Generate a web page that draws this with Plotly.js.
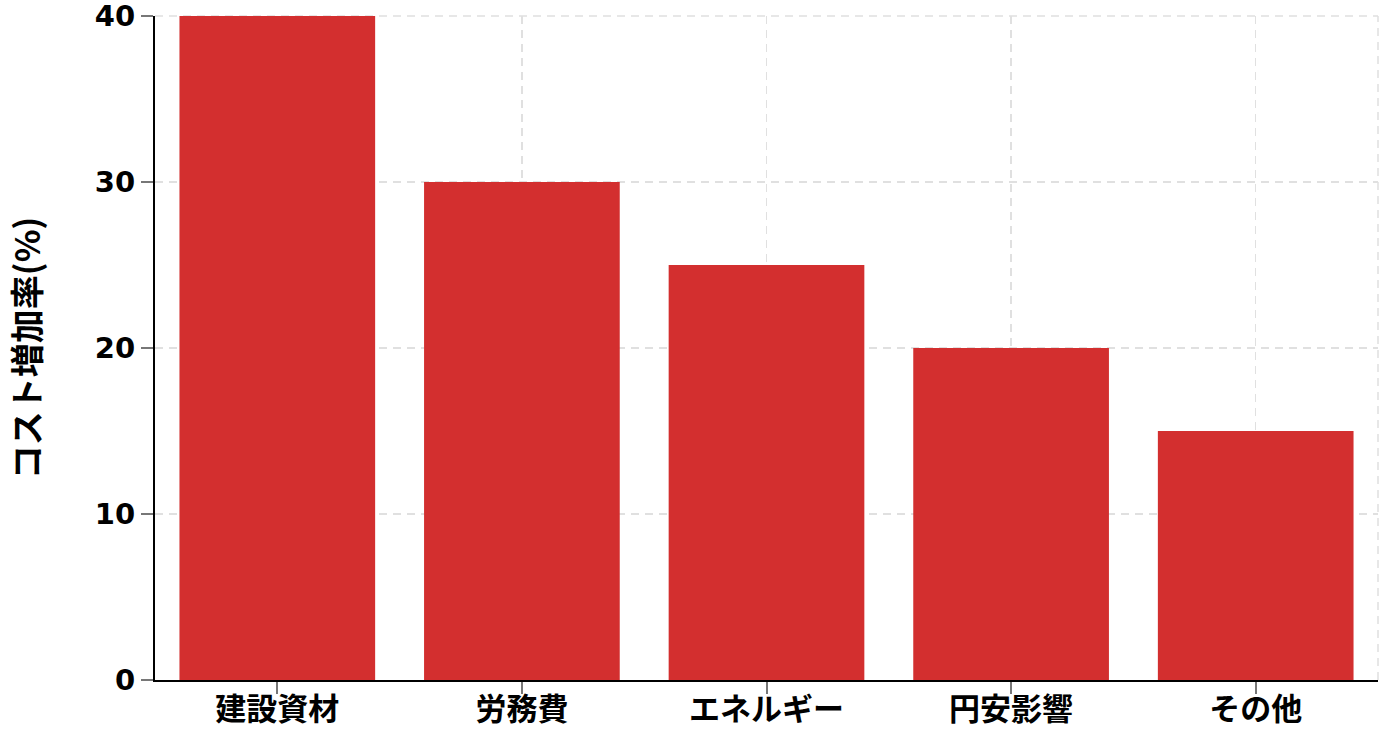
<!DOCTYPE html>
<html>
<head>
<meta charset="utf-8">
<script src="https://cdn.plot.ly/plotly-3.0.1.min.js"></script>
<style>
  body { margin: 0; background: #fff; }
  #chart { width: 1391px; height: 739px; }
</style>
</head>
<body>
<div id="chart"></div>
<script>
// cost increase by factor (%)
let categories = ['建設資材', '労務費', 'エネルギー', '円安影響', 'その他'];
let increaseRate = [40, 30, 25, 20, 15];
let yTicks = [0, 10, 20, 30, 40];

let trace1 = {
  x: categories,
  y: increaseRate,
  type: 'bar',
  marker: {
    color: '#d32f2f'
  },
  hoverinfo: 'x+y'
};

let labelFont = { family: '"DejaVu Sans", sans-serif', size: 29, color: '#000', weight: 'bold' };
let cjkFont = { family: '"Noto Sans CJK JP", sans-serif', size: 31, color: '#000', weight: 'bold' };
let gridStyle = { color: '#e0e0e0', width: 1.5, dash: '8px,6px' };

let layout = {
  width: 1391,
  height: 739,
  margin: { l: 155, r: 13, t: 16, b: 59 },
  paper_bgcolor: '#fff',
  plot_bgcolor: '#fff',
  showlegend: false,
  bargap: 0.2,
  xaxis: {
    type: 'category',
    range: [-0.5, 4.5],
    showgrid: true,
    gridcolor: gridStyle.color,
    gridwidth: gridStyle.width,
    griddash: gridStyle.dash,
    showline: true,
    linecolor: '#000',
    linewidth: 2,
    ticks: 'outside',
    ticklen: 12,
    tickwidth: 2,
    tickcolor: '#777',
    tickfont: cjkFont,
    ticklabelstandoff: -11,
    fixedrange: true
  },
  yaxis: {
    range: [0, 40],
    tickvals: yTicks,
    showgrid: true,
    gridcolor: gridStyle.color,
    gridwidth: gridStyle.width,
    griddash: gridStyle.dash,
    zeroline: false,
    showline: true,
    linecolor: '#000',
    linewidth: 2,
    ticks: 'outside',
    ticklen: 12,
    tickwidth: 2,
    tickcolor: '#777',
    tickfont: labelFont,
    ticklabeloverflow: 'allow',
    title: {
      text: 'コスト増加率(%)',
      font: { family: '"Noto Sans CJK JP", sans-serif', size: 34, color: '#000', weight: 'bold' },
      standoff: 44
    },
    fixedrange: true
  },
  shapes: [
    // dashed frame lines on the top and right edges, drawn under the bars
    {
      type: 'line', layer: 'below',
      xref: 'paper', yref: 'paper',
      x0: 0, x1: 1, y0: 1, y1: 1,
      line: gridStyle
    },
    {
      type: 'line', layer: 'below',
      xref: 'paper', yref: 'paper',
      x0: 1, x1: 1, y0: 0, y1: 1,
      line: gridStyle
    }
  ]
};

Plotly.newPlot('chart', [trace1], layout, { displayModeBar: false, staticPlot: true });
</script>
</body>
</html>
